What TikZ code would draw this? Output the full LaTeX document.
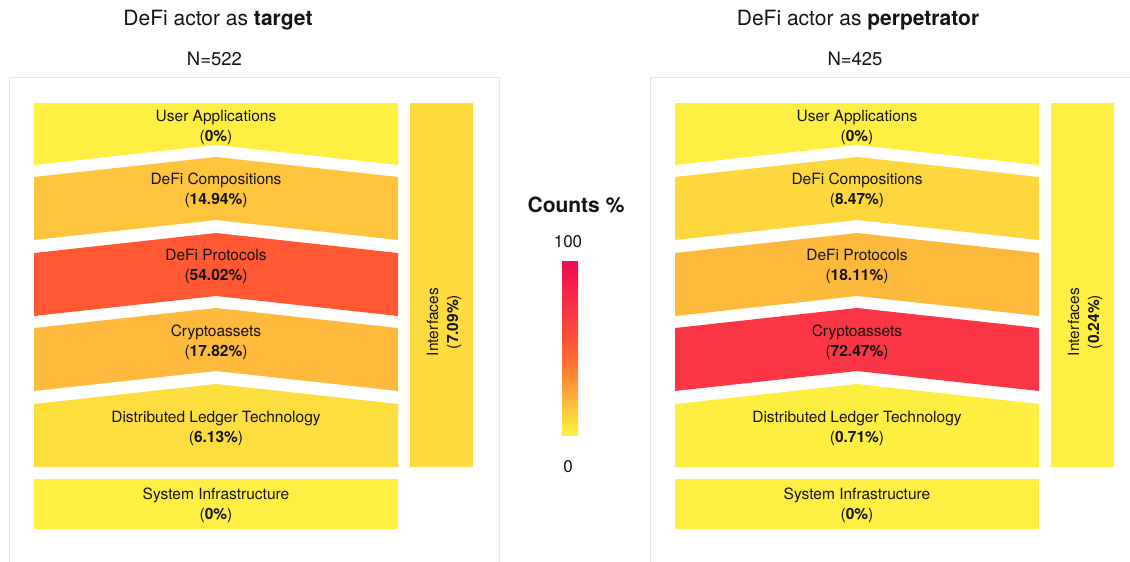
\documentclass[tikz,border=0pt]{standalone}
\usepackage{fontspec}
\setmainfont{TeX Gyre Heros}
\definecolor{c00}{HTML}{FFEF42}
\definecolor{c01}{HTML}{FFEE42}
\definecolor{c61}{HTML}{FEDE3F}
\definecolor{c71}{HTML}{FEDB3F}
\definecolor{c85}{HTML}{FED73E}
\definecolor{c149}{HTML}{FEC43D}
\definecolor{c178}{HTML}{FDBA3C}
\definecolor{c181}{HTML}{FDB93C}
\definecolor{c540}{HTML}{FF5833}
\definecolor{c725}{HTML}{FA3644}
\definecolor{frame}{HTML}{E6E6E6}
\definecolor{ink}{HTML}{141414}
\definecolor{g10}{HTML}{FED53E}
\definecolor{g20}{HTML}{FDB53B}
\definecolor{g30}{HTML}{FE9637}
\definecolor{g40}{HTML}{FF7633}
\definecolor{g50}{HTML}{FF5C32}
\definecolor{g60}{HTML}{FE4A38}
\definecolor{g85}{HTML}{F4214A}
\definecolor{g100}{HTML}{EE0B52}
\pgfdeclareverticalshading{cbar}{100bp}{%
color(0bp)=(c00); color(25bp)=(c00);
color(30bp)=(g10); color(35bp)=(g20); color(40bp)=(g30);
color(45bp)=(g40); color(50bp)=(g50); color(55bp)=(g60);
color(61bp)=(c725); color(67.5bp)=(g85); color(75bp)=(g100); color(100bp)=(g100)}
\tikzset{
  lbl/.style={align=center, inner sep=0pt, text=ink, font=\fontsize{15.5}{20}\selectfont},
  ttl/.style={inner sep=0pt, text=ink, font=\fontsize{21}{25}\selectfont},
  nlbl/.style={inner sep=0pt, text=ink, font=\fontsize{18.5}{22}\selectfont},
  cbl/.style={inner sep=0pt, text=ink, font=\fontsize{17}{20}\selectfont},
  panelframe/.style={draw=frame, line width=1pt},
}
\begin{document}
\begin{tikzpicture}[x=1pt, y=-1pt]
\useasboundingbox (0,0) rectangle (1130,562);
\clip (0,0) rectangle (1130,562);
\fill[white] (0,0) rectangle (1130,562);

% ---------- left panel ----------
\node[ttl] (title-l) at (218,20) {DeFi actor as \textbf{target}};
\node[nlbl] (n-l) at (214.5,59) {N=522};
\draw[panelframe] (9.5,77.5) rectangle (499,600);
\fill[c00]  (34,103) -- (398,103) -- (398,165) -- (216,145) -- (34,165) -- cycle;
\fill[c149] (34,177) -- (216,157) -- (398,177) -- (398,240) -- (216,220) -- (34,240) -- cycle;
\fill[c540] (34,253) -- (216,233) -- (398,253) -- (398,316) -- (216,296) -- (34,316) -- cycle;
\fill[c178] (34,328) -- (216,308) -- (398,328) -- (398,391) -- (216,371) -- (34,391) -- cycle;
\fill[c61]  (34,404) -- (216,384) -- (398,404) -- (398,467) -- (34,467) -- cycle;
\fill[c00]  (34,479) rectangle (398,529);
\fill[c71]  (410,103) rectangle (473,467);
\node[lbl] (ua-l) at (216,127) {User Applications\\(\textbf{0\%})};
\node[lbl] (dc-l) at (216,190.5) {DeFi Compositions\\(\textbf{14.94\%})};
\node[lbl] (dp-l) at (216,266.5) {DeFi Protocols\\(\textbf{54.02\%})};
\node[lbl] (ca-l) at (216,342.5) {Cryptoassets\\(\textbf{17.82\%})};
\node[lbl] (dlt-l) at (216,428.5) {Distributed Ledger Technology\\(\textbf{6.13\%})};
\node[lbl] (si-l) at (216,505.5) {System Infrastructure\\(\textbf{0\%})};
\node[lbl, rotate=90] (if-l) at (444,322) {Interfaces\\(\textbf{7.09\%})};

% ---------- colour bar ----------
\node[inner sep=0pt, text=ink, font=\fontsize{21}{25}\selectfont\bfseries] (cb-title) at (576,205) {Counts \%};
\node[cbl] (cb-max) at (568,242) {100};
\shade[shading=cbar] (562,261) rectangle (578,435);
\node[cbl] (cb-min) at (568,467) {0};

% ---------- right panel ----------
\begin{scope}[xshift=641pt]
\node[ttl] (title-r) at (217,20) {DeFi actor as \textbf{perpetrator}};
\node[nlbl] (n-r) at (214,59) {N=425};
\draw[panelframe] (9.5,77.5) rectangle (499,600);
\fill[c00]  (34,103) -- (398,103) -- (398,165) -- (216,145) -- (34,165) -- cycle;
\fill[c85]  (34,177) -- (216,157) -- (398,177) -- (398,240) -- (216,220) -- (34,240) -- cycle;
\fill[c181] (34,253) -- (216,233) -- (398,253) -- (398,316) -- (216,296) -- (34,316) -- cycle;
\fill[c725] (34,328) -- (216,308) -- (398,328) -- (398,391) -- (216,371) -- (34,391) -- cycle;
\fill[c01]  (34,404) -- (216,384) -- (398,404) -- (398,467) -- (34,467) -- cycle;
\fill[c00]  (34,479) rectangle (398,529);
\fill[c00]  (410,103) rectangle (473,467);
\node[lbl] (ua-r) at (216,127) {User Applications\\(\textbf{0\%})};
\node[lbl] (dc-r) at (216,190.5) {DeFi Compositions\\(\textbf{8.47\%})};
\node[lbl] (dp-r) at (216,266.5) {DeFi Protocols\\(\textbf{18.11\%})};
\node[lbl] (ca-r) at (216,342.5) {Cryptoassets\\(\textbf{72.47\%})};
\node[lbl] (dlt-r) at (216,428.5) {Distributed Ledger Technology\\(\textbf{0.71\%})};
\node[lbl] (si-r) at (216,505.5) {System Infrastructure\\(\textbf{0\%})};
\node[lbl, rotate=90] (if-r) at (444,322) {Interfaces\\(\textbf{0.24\%})};
\end{scope}
\end{tikzpicture}
\end{document}
